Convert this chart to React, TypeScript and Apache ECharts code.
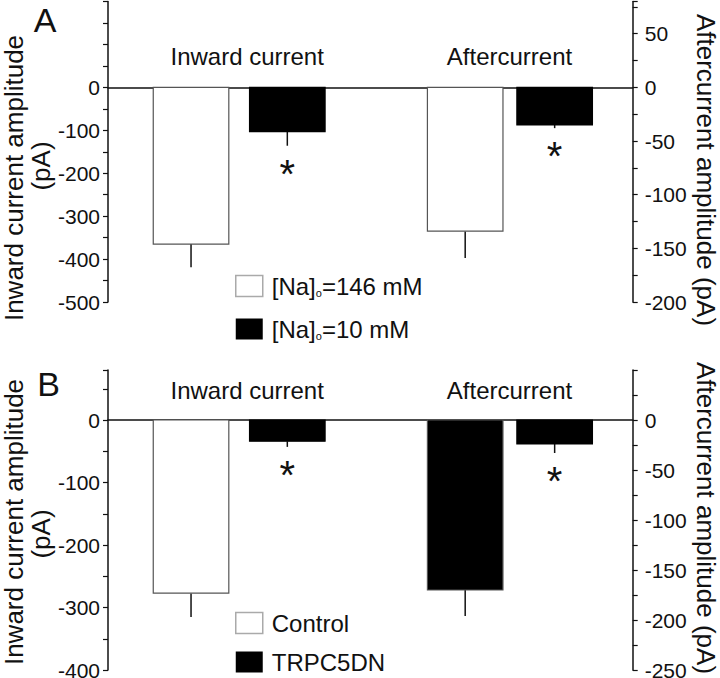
import React, { useEffect, useRef } from 'react';
import * as echarts from 'echarts';

// ---------- data ----------
const categories = ['Inward current', 'Aftercurrent'];

// Panel A
const naHighName = '[Na]o=146 mM';
const naLowName = '[Na]o=10 mM';
const naHighMean = [-365, -134];
const naHighErr = [54, 25];
const naLowMean = [-103, -35];
const naLowErr = [33, 3];
const naLowSig = [1, 1];
const naHighSig = [0, 0];

// Panel B
const controlName = 'Control';
const trpcName = 'TRPC5DN';
const controlMean = [-277, -170];
const controlErr = [38, 26];
const trpcMean = [-34, -24];
const trpcErr = [9, 9];
const trpcSig = [1, 1];
const controlSig = [0, 0];

// axis ranges (left = inward current, right = aftercurrent)
const aLeftRange = [-500, 200];
const aRightRange = [-200, 80];
const bLeftRange = [-400, 80];
const bRightRange = [-250, 50];

// ---------- styles / layout ----------
const FONT = '"Liberation Sans", Arial, Helvetica, sans-serif';
const INK = '#111';
const whiteFill = ['#ffffff', '#ffffff'];
const blackFill = ['#000000', '#000000'];
const controlFillB = ['#ffffff', '#000000'];
const BAR_FRAC = 0.288; // bar width as fraction of category band
const GAP_FRAC = [0.079, 0.053]; // gap between paired bars, per category
const SHIFT_FRAC = [0, 0.032]; // pair offset from band centre, per category

function renderBar(slot: number, fill: string, stroke: string) {
  return (params: any, api: any) => {
    const cat = api.value(0);
    const val = api.value(1);
    const err = api.value(2);
    const sig = api.value(3);
    const zero = api.coord([cat, 0]);
    const end = api.coord([cat, val]);
    const errEnd = api.coord([cat, val - err]);
    const band = api.size([1, 0])[0];
    const barW = band * BAR_FRAC;
    const gap = band * GAP_FRAC[cat];
    const cx = zero[0] + band * SHIFT_FRAC[cat] + (slot === 0 ? -1 : 1) * (barW + gap) / 2;
    const children: any[] = [
      {
        type: 'line',
        shape: { x1: cx, y1: end[1], x2: cx, y2: errEnd[1] },
        style: { stroke: INK, lineWidth: 1.5 },
      },
      {
        type: 'rect',
        shape: {
          x: cx - barW / 2,
          y: Math.min(zero[1], end[1]),
          width: barW,
          height: Math.abs(end[1] - zero[1]),
        },
        style: { fill, stroke, lineWidth: 1.2 },
      },
    ];
    if (sig) {
      children.push({
        type: 'text',
        x: cx,
        y: errEnd[1] + 28,
        style: {
          text: '*',
          fontSize: 40,
          fontFamily: FONT,
          fill: INK,
          align: 'center',
          verticalAlign: 'middle',
        },
      });
    }
    return { type: 'group', children };
  };
}

function condSeries(
  name: string,
  means: number[],
  errs: number[],
  sigs: number[],
  slot: number,
  fills: string[],
  stroke: string,
  xAxisIndex: number,
  leftY: number,
  rightY: number
) {
  return categories.map((c, i) => ({
    type: 'custom',
    name,
    xAxisIndex,
    yAxisIndex: i === 0 ? leftY : rightY,
    itemStyle: { color: fills[0], borderColor: stroke },
    renderItem: renderBar(slot, fills[i], stroke),
    data: [[i, means[i], errs[i], sigs[i]]],
    z: 5,
  }));
}

function yAxis(
  gridIndex: number,
  position: 'left' | 'right',
  range: number[],
  step: number,
  labelFn: (v: number) => string
) {
  return {
    type: 'value',
    gridIndex,
    position,
    min: range[0],
    max: range[1],
    interval: step,
    axisLine: { show: true, onZero: false, lineStyle: { color: INK, width: 1.5 } },
    axisTick: { show: true, length: 5, lineStyle: { color: INK, width: 1.2 } },
    axisLabel: {
      formatter: labelFn,
      fontSize: 21,
      color: INK,
      fontFamily: FONT,
      margin: position === 'left' ? 8 : 12,
    },
    splitLine: { show: false },
  };
}

function xAxis(gridIndex: number, labelMargin: number) {
  return {
    type: 'category',
    gridIndex,
    data: categories,
    position: 'top',
    boundaryGap: true,
    axisLine: { show: true, onZero: true, lineStyle: { color: INK, width: 1.5 } },
    axisTick: { show: false },
    axisLabel: {
      fontSize: 24,
      color: INK,
      fontFamily: FONT,
      inside: true,
      margin: labelMargin,
      padding: [0, 0, 0, 16],
    },
    splitLine: { show: false },
  };
}

const legendText = {
  fontSize: 24,
  lineHeight: 24,
  color: INK,
  fontFamily: FONT,
  padding: [0, 0, 0, 4],
  rich: {
    sub: { fontSize: 11, lineHeight: 6, verticalAlign: 'bottom', fontFamily: FONT, color: INK },
  },
};

const legendFormatter = (name: string) => name.replace('[Na]o', '[Na]{sub|o}');

function textEl(text: string, x: number, y: number, size: number, rotation = 0) {
  return {
    type: 'text',
    x,
    y,
    rotation,
    style: {
      text,
      fontSize: size,
      fontFamily: FONT,
      fill: INK,
      align: 'center',
      verticalAlign: 'middle',
    },
  };
}

export default function App() {
  const ref = useRef<HTMLDivElement>(null);
  useEffect(() => {
    if (!ref.current) return;
    const chart = echarts.init(ref.current, undefined, { renderer: 'svg' });
    const leftLabel = (v: number) => (v <= 0 && v % 100 === 0 ? String(v) : '');
    const rightLabelA = (v: number) => (v <= 50 && v % 50 === 0 ? String(v) : '');
    const rightLabelB = (v: number) => (v <= 0 && v % 50 === 0 ? String(v) : '');
    chart.setOption({
      animation: false,
      backgroundColor: '#ffffff',
      grid: [
        { left: 108, right: 87.3, top: 1.5, height: 300.5, containLabel: false, outerBoundsMode: 'none' },
        { left: 108, right: 87.3, top: 370, height: 300, containLabel: false, outerBoundsMode: 'none' },
      ],
      xAxis: [xAxis(0, 43), xAxis(1, 8)],
      yAxis: [
        yAxis(0, 'left', aLeftRange, 50, leftLabel),
        yAxis(0, 'right', aRightRange, 25, rightLabelA),
        yAxis(1, 'left', bLeftRange, 50, leftLabel),
        yAxis(1, 'right', bRightRange, 25, rightLabelB),
      ],
      legend: [
        {
          data: [
            { name: naHighName, itemStyle: { color: '#fff', borderColor: '#aaa', borderWidth: 1.5 } },
            { name: naLowName, itemStyle: { color: '#000', borderWidth: 0 } },
          ],
          orient: 'vertical',
          left: 235,
          top: 274,
          padding: 0,
          icon: 'rect',
          itemWidth: 27,
          itemHeight: 21,
          itemGap: 19,
          selectedMode: false,
          formatter: legendFormatter,
          textStyle: legendText,
        },
        {
          data: [
            { name: controlName, itemStyle: { color: '#fff', borderColor: '#aaa', borderWidth: 1.5 } },
            { name: trpcName, itemStyle: { color: '#000', borderWidth: 0 } },
          ],
          orient: 'vertical',
          left: 235,
          top: 611,
          padding: 0,
          icon: 'rect',
          itemWidth: 27,
          itemHeight: 21,
          itemGap: 15,
          selectedMode: false,
          textStyle: legendText,
        },
      ],
      series: [
        ...condSeries(naHighName, naHighMean, naHighErr, naHighSig, 0, whiteFill, '#555', 0, 0, 1),
        ...condSeries(naLowName, naLowMean, naLowErr, naLowSig, 1, blackFill, '#000', 0, 0, 1),
        ...condSeries(controlName, controlMean, controlErr, controlSig, 0, controlFillB, '#555', 1, 2, 3),
        ...condSeries(trpcName, trpcMean, trpcErr, trpcSig, 1, blackFill, '#000', 1, 2, 3),
      ],
      graphic: [
        textEl('A', 45, 20, 34),
        textEl('B', 48.5, 384, 34),
        textEl('Inward current amplitude', 14, 178, 26, Math.PI / 2),
        textEl('(pA)', 41, 166, 26, Math.PI / 2),
        textEl('Inward current amplitude', 14, 522, 26, Math.PI / 2),
        textEl('(pA)', 41, 534, 26, Math.PI / 2),
        textEl('Aftercurrent amplitude (pA)', 706, 170, 26, -Math.PI / 2),
        textEl('Aftercurrent amplitude (pA)', 706, 518, 26, -Math.PI / 2),
      ],
    });
    return () => chart.dispose();
  }, []);
  return (
    <div
      ref={ref}
      style={{ position: 'fixed', left: 0, top: 0, width: 720, height: 678, background: '#fff' }}
    />
  );
}
